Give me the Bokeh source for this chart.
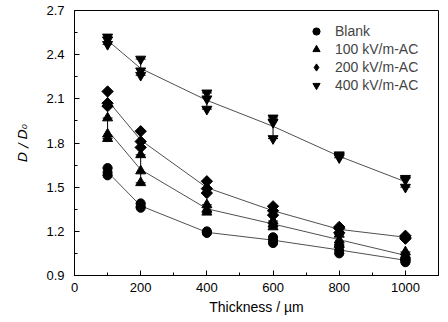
import numpy as np
from bokeh.plotting import figure
from bokeh.models import (ColumnDataSource, Whisker, TeeHead, Legend, LegendItem,
                          FixedTicker, Range1d)
from bokeh.embed import file_html
from bokeh.resources import INLINE

thickness = [100, 200, 400, 600, 800, 1000]
series_names = ["Blank", "100 kV/m-AC", "200 kV/m-AC", "400 kV/m-AC"]
markers = ["circle", "triangle", "square", "inverted_triangle"]
legend_markers = ["circle", "triangle", "diamond", "inverted_triangle"]
marker_sizes = [9, 10, 8, 10]
marker_angles = [0, 0, np.pi / 4, 0]

blank_vals = [[1.63, 1.60, 1.58], [1.39, 1.37, 1.36], [1.20, 1.19, 1.19],
              [1.16, 1.14, 1.12], [1.10, 1.07, 1.05], [1.02, 1.00, 0.99]]
kv100_vals = [[1.97, 1.86, 1.83], [1.72, 1.61, 1.53], [1.38, 1.35, 1.33],
              [1.27, 1.25, 1.23], [1.18, 1.14, 1.11], [1.06, 1.03, 1.02]]
kv200_vals = [[2.15, 2.07, 2.05], [1.88, 1.81, 1.77], [1.54, 1.49, 1.46],
              [1.37, 1.34, 1.31], [1.23, 1.22, 1.19], [1.17, 1.16, 1.15]]
kv400_vals = [[2.52, 2.50, 2.47], [2.37, 2.29, 2.26], [2.14, 2.10, 2.03],
              [1.97, 1.94, 1.83], [1.72, 1.71, 1.70], [1.56, 1.55, 1.50]]
all_vals = [blank_vals, kv100_vals, kv200_vals, kv400_vals]

x_ticks = [0, 200, 400, 600, 800, 1000]
y_ticks = [0.9, 1.2, 1.5, 1.8, 2.1, 2.4, 2.7]

p = figure(width=448, height=322, output_backend="svg", toolbar_location=None,
           x_range=Range1d(0, 1100), y_range=Range1d(0.9, 2.7),
           min_border_left=74, min_border_right=10, min_border_top=10,
           min_border_bottom=47)
p.background_fill_color = "white"
p.border_fill_color = "white"
p.outline_line_color = "black"
p.outline_line_width = 1
p.xgrid.visible = False
p.ygrid.visible = False

for ax in (p.xaxis[0], p.yaxis[0]):
    ax.axis_line_color = "black"
    ax.major_tick_in = 5
    ax.major_tick_out = 0
    ax.minor_tick_in = 3
    ax.minor_tick_out = 0
    ax.major_tick_line_color = "black"
    ax.minor_tick_line_color = "black"
    ax.major_label_text_font = "Liberation Sans"
    ax.major_label_text_font_size = "13px"
    ax.major_label_text_color = "black"
    ax.axis_label_text_color = "black"

p.xaxis.ticker = FixedTicker(ticks=x_ticks, minor_ticks=list(range(0, 1101, 100)))
p.yaxis.ticker = FixedTicker(ticks=y_ticks,
                             minor_ticks=[round(0.9 + 0.15 * i, 2) for i in range(13)])
p.yaxis.major_label_overrides = {t: f"{t:.1f}" for t in y_ticks}
p.xaxis.major_label_standoff = 7
p.yaxis.major_label_standoff = 10

p.xaxis.axis_label = "Thickness / µm"
p.xaxis.axis_label_text_font = "Liberation Sans"
p.xaxis.axis_label_text_font_style = "normal"
p.xaxis.axis_label_text_font_size = "14px"
p.xaxis.axis_label_standoff = 4

p.yaxis.axis_label = "D / D\u2080"
p.yaxis.axis_label_text_font = "DejaVu Sans"
p.yaxis.axis_label_text_font_style = "italic"
p.yaxis.axis_label_text_font_size = "13px"
p.yaxis.axis_label_standoff = 13

items = []
for name, mk, lmk, sz, ang, vals in zip(series_names, markers, legend_markers,
                                        marker_sizes, marker_angles, all_vals):
    means = [float(np.mean(v)) for v in vals]
    p.line(thickness, means, line_color="#505050", line_width=1)
    xs, ys = [], []
    for t, v in zip(thickness, vals):
        xs += [t] * len(v)
        ys += v
    r = p.scatter(xs, ys, marker=mk, size=sz, angle=ang,
                  fill_color="black", line_color="black")
    src = ColumnDataSource(dict(x=thickness, lo=[min(v) for v in vals],
                                hi=[max(v) for v in vals]))
    w = Whisker(source=src, base="x", lower="lo", upper="hi", line_color="black",
                line_width=1,
                upper_head=TeeHead(size=10, line_color="black"),
                lower_head=TeeHead(size=10, line_color="black"))
    p.add_layout(w)
    if lmk != mk:
        # legend-only renderer with the diamond symbol (no visible data)
        r = p.scatter([np.nan], [np.nan], marker=lmk, size=14,
                      fill_color="black", line_color="black")
    items.append(LegendItem(label=name, renderers=[r]))

legend = Legend(items=items, location=(232, 181))
legend.background_fill_alpha = 0
legend.border_line_color = None
legend.label_text_font = "Liberation Sans"
legend.label_text_font_size = "14px"
legend.glyph_height = 18
legend.glyph_width = 20
legend.label_height = 18
legend.spacing = 0
legend.padding = 4
legend.margin = 0
legend.label_standoff = 9
p.add_layout(legend)

open("out.html", "w").write(file_html(p, INLINE))
